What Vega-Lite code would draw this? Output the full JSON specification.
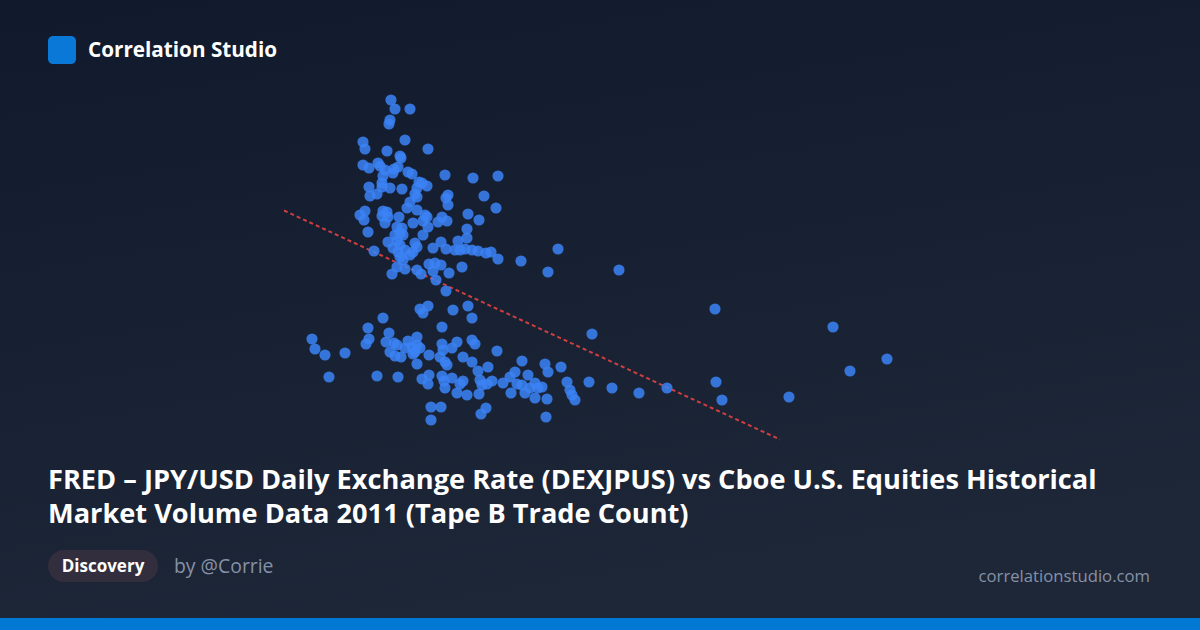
{
  "$schema": "https://vega.github.io/schema/vega-lite/v6.json",
  "width": 1200,
  "height": 630,
  "padding": 0,
  "autosize": {"type": "none"},
  "background": "#111827",
  "config": {"view": {"stroke": null}},
  "datasets": {
    "points": [
      {"px":391,"py":100},{"px":395,"py":109},{"px":410,"py":109},{"px":390,"py":120},{"px":389,"py":124},
      {"px":363,"py":142},{"px":365,"py":149},{"px":405,"py":140},{"px":387,"py":151},{"px":428,"py":149},
      {"px":400,"py":156},{"px":401,"py":158},{"px":363,"py":165},{"px":369,"py":168},{"px":378,"py":163},
      {"px":380,"py":166},{"px":385,"py":170},{"px":394,"py":169},{"px":398,"py":167},{"px":393,"py":173},
      {"px":408,"py":172},{"px":412,"py":174},{"px":383,"py":176},{"px":382,"py":183},{"px":445,"py":175},
      {"px":473,"py":178},{"px":498,"py":176},{"px":419,"py":182},{"px":427,"py":186},{"px":422,"py":183},
      {"px":369,"py":187},{"px":390,"py":188},{"px":402,"py":189},{"px":417,"py":188},{"px":382,"py":187},
      {"px":370,"py":196},{"px":377,"py":194},{"px":415,"py":194},{"px":417,"py":197},{"px":448,"py":195},
      {"px":446,"py":198},{"px":448,"py":205},{"px":484,"py":196},{"px":496,"py":208},{"px":410,"py":202},
      {"px":407,"py":208},{"px":417,"py":210},{"px":365,"py":211},{"px":360,"py":215},{"px":364,"py":220},
      {"px":383,"py":211},{"px":387,"py":212},{"px":382,"py":216},{"px":388,"py":217},{"px":399,"py":217},
      {"px":425,"py":215},{"px":427,"py":217},{"px":423,"py":221},{"px":428,"py":227},{"px":442,"py":217},
      {"px":438,"py":222},{"px":447,"py":221},{"px":468,"py":214},{"px":479,"py":220},{"px":385,"py":223},
      {"px":413,"py":223},{"px":397,"py":227},{"px":402,"py":228},{"px":400,"py":233},{"px":395,"py":235},
      {"px":403,"py":235},{"px":368,"py":232},{"px":467,"py":229},{"px":423,"py":235},{"px":388,"py":242},
      {"px":397,"py":241},{"px":400,"py":245},{"px":393,"py":248},{"px":398,"py":252},{"px":405,"py":250},
      {"px":415,"py":243},{"px":417,"py":247},{"px":413,"py":252},{"px":410,"py":255},{"px":458,"py":241},
      {"px":467,"py":238},{"px":441,"py":242},{"px":433,"py":248},{"px":446,"py":249},{"px":455,"py":250},
      {"px":460,"py":250},{"px":465,"py":249},{"px":472,"py":250},{"px":478,"py":251},{"px":486,"py":253},
      {"px":491,"py":252},{"px":374,"py":251},{"px":400,"py":257},{"px":403,"py":260},{"px":429,"py":264},
      {"px":435,"py":263},{"px":441,"py":265},{"px":462,"py":267},{"px":392,"py":274},{"px":397,"py":267},
      {"px":405,"py":269},{"px":417,"py":270},{"px":421,"py":274},{"px":433,"py":271},{"px":436,"py":280},
      {"px":449,"py":273},{"px":498,"py":259},{"px":521,"py":261},{"px":558,"py":249},{"px":548,"py":272},
      {"px":619,"py":270},{"px":446,"py":291},
      {"px":420,"py":309},{"px":423,"py":313},{"px":428,"py":306},{"px":453,"py":310},{"px":468,"py":306},
      {"px":472,"py":318},{"px":383,"py":318},{"px":592,"py":334},{"px":312,"py":339},{"px":315,"py":349},
      {"px":325,"py":355},{"px":345,"py":353},{"px":329,"py":377},{"px":368,"py":328},{"px":369,"py":339},
      {"px":366,"py":344},{"px":389,"py":333},{"px":386,"py":342},{"px":394,"py":343},{"px":397,"py":345},
      {"px":390,"py":352},{"px":395,"py":356},{"px":401,"py":357},{"px":408,"py":341},{"px":417,"py":337},
      {"px":405,"py":348},{"px":412,"py":347},{"px":415,"py":352},{"px":420,"py":348},{"px":413,"py":354},
      {"px":417,"py":345},{"px":442,"py":327},{"px":429,"py":355},{"px":417,"py":364},{"px":377,"py":376},
      {"px":398,"py":377},{"px":422,"py":379},{"px":429,"py":375},{"px":428,"py":384},{"px":442,"py":376},
      {"px":444,"py":381},{"px":445,"py":388},{"px":431,"py":407},{"px":441,"py":407},{"px":431,"py":420},
      {"px":442,"py":344},{"px":443,"py":350},{"px":440,"py":357},{"px":445,"py":362},{"px":447,"py":365},
      {"px":457,"py":342},{"px":472,"py":340},{"px":475,"py":344},{"px":452,"py":348},{"px":497,"py":351},
      {"px":463,"py":357},{"px":472,"py":362},{"px":488,"py":367},{"px":478,"py":371},{"px":522,"py":361},
      {"px":545,"py":364},{"px":548,"py":372},{"px":561,"py":367},{"px":567,"py":382},{"px":570,"py":390},
      {"px":572,"py":395},{"px":575,"py":400},{"px":589,"py":382},{"px":452,"py":378},{"px":457,"py":393},
      {"px":467,"py":395},{"px":463,"py":381},{"px":460,"py":384},{"px":480,"py":380},{"px":482,"py":385},
      {"px":479,"py":394},{"px":487,"py":384},{"px":492,"py":381},{"px":503,"py":383},{"px":510,"py":377},
      {"px":515,"py":372},{"px":517,"py":384},{"px":522,"py":385},{"px":528,"py":375},{"px":535,"py":383},
      {"px":538,"py":388},{"px":542,"py":387},{"px":511,"py":393},{"px":525,"py":393},{"px":535,"py":398},
      {"px":547,"py":399},{"px":530,"py":388},{"px":486,"py":408},{"px":481,"py":414},{"px":546,"py":417},
      {"px":612,"py":388},{"px":639,"py":393},{"px":667,"py":388},{"px":716,"py":382},{"px":722,"py":400},
      {"px":789,"py":397},{"px":715,"py":309},{"px":833,"py":327},{"px":887,"py":359},{"px":850,"py":371}
    ],
    "trend": [{"px":284,"py":210.5},{"px":780,"py":439.5}],
    "one": [{}]
  },
  "layer": [
    {
      "data": {"name": "one"},
      "mark": {"type": "rect", "color": {"gradient": "linear", "x1": 0, "y1": 0, "x2": 0.3, "y2": 1, "stops": [{"offset": 0, "color": "#111a2c"}, {"offset": 1, "color": "#1e2738"}]}},
      "encoding": {
        "x": {"datum": 0, "type": "quantitative", "scale": {"domain": [0, 1200], "nice": false, "zero": false}, "axis": null},
        "x2": {"datum": 1200},
        "y": {"datum": 0, "type": "quantitative", "scale": {"domain": [0, 630], "nice": false, "zero": false, "reverse": true}, "axis": null},
        "y2": {"datum": 630}
      }
    },
    {
      "data": {"name": "one"},
      "mark": {"type": "rect", "color": "#0078d4"},
      "encoding": {
        "x": {"datum": 0, "type": "quantitative", "axis": null},
        "x2": {"datum": 1200},
        "y": {"datum": 618, "type": "quantitative", "axis": null},
        "y2": {"datum": 630}
      }
    },
    {
      "data": {"name": "one"},
      "mark": {"type": "rect", "color": "#0a78d6", "cornerRadius": 5},
      "encoding": {
        "x": {"datum": 48, "type": "quantitative", "axis": null},
        "x2": {"datum": 76},
        "y": {"datum": 36, "type": "quantitative", "axis": null},
        "y2": {"datum": 64}
      }
    },
    {
      "data": {"name": "one"},
      "mark": {"type": "text", "text": "Correlation Studio", "font": "Open Sans", "fontWeight": "bold", "fontSize": 20.7, "color": "#ffffff", "align": "left", "baseline": "alphabetic"},
      "encoding": {
        "x": {"datum": 88, "type": "quantitative", "axis": null},
        "y": {"datum": 57, "type": "quantitative", "axis": null}
      }
    },
    {
      "data": {"name": "trend"},
      "mark": {"type": "line", "color": "#ef4444", "opacity": 0.85, "strokeWidth": 2, "strokeDash": [4, 3]},
      "encoding": {
        "x": {"field": "px", "type": "quantitative", "axis": null},
        "y": {"field": "py", "type": "quantitative", "axis": null}
      }
    },
    {
      "data": {"name": "points"},
      "mark": {"type": "circle", "color": "#3b82f6", "opacity": 0.85, "size": 125},
      "encoding": {
        "x": {"field": "px", "type": "quantitative", "axis": null},
        "y": {"field": "py", "type": "quantitative", "axis": null}
      }
    },
    {
      "data": {"name": "one"},
      "mark": {"type": "text", "text": "FRED – JPY/USD Daily Exchange Rate (DEXJPUS) vs Cboe U.S. Equities Historical", "font": "Open Sans", "fontWeight": "bold", "fontSize": 27.2, "color": "#ffffff", "align": "left", "baseline": "alphabetic"},
      "encoding": {
        "x": {"datum": 48, "type": "quantitative", "axis": null},
        "y": {"datum": 489, "type": "quantitative", "axis": null}
      }
    },
    {
      "data": {"name": "one"},
      "mark": {"type": "text", "text": "Market Volume Data 2011 (Tape B Trade Count)", "font": "Open Sans", "fontWeight": "bold", "fontSize": 27.2, "color": "#ffffff", "align": "left", "baseline": "alphabetic"},
      "encoding": {
        "x": {"datum": 48, "type": "quantitative", "axis": null},
        "y": {"datum": 523, "type": "quantitative", "axis": null}
      }
    },
    {
      "data": {"name": "one"},
      "mark": {"type": "rect", "color": "#332e3d", "cornerRadius": 16},
      "encoding": {
        "x": {"datum": 48, "type": "quantitative", "axis": null},
        "x2": {"datum": 158},
        "y": {"datum": 550, "type": "quantitative", "axis": null},
        "y2": {"datum": 582}
      }
    },
    {
      "data": {"name": "one"},
      "mark": {"type": "text", "text": "Discovery", "font": "Open Sans", "fontWeight": "bold", "fontSize": 17, "color": "#ffffff", "align": "center", "baseline": "alphabetic"},
      "encoding": {
        "x": {"datum": 103, "type": "quantitative", "axis": null},
        "y": {"datum": 572, "type": "quantitative", "axis": null}
      }
    },
    {
      "data": {"name": "one"},
      "mark": {"type": "text", "text": "by @Corrie", "font": "Open Sans", "fontSize": 19.4, "color": "#8591a6", "align": "left", "baseline": "alphabetic"},
      "encoding": {
        "x": {"datum": 174, "type": "quantitative", "axis": null},
        "y": {"datum": 573, "type": "quantitative", "axis": null}
      }
    },
    {
      "data": {"name": "one"},
      "mark": {"type": "text", "text": "correlationstudio.com", "font": "Open Sans", "fontSize": 16.7, "color": "#8591a6", "align": "right", "baseline": "alphabetic"},
      "encoding": {
        "x": {"datum": 1150, "type": "quantitative", "axis": null},
        "y": {"datum": 582, "type": "quantitative", "axis": null}
      }
    }
  ]
}
